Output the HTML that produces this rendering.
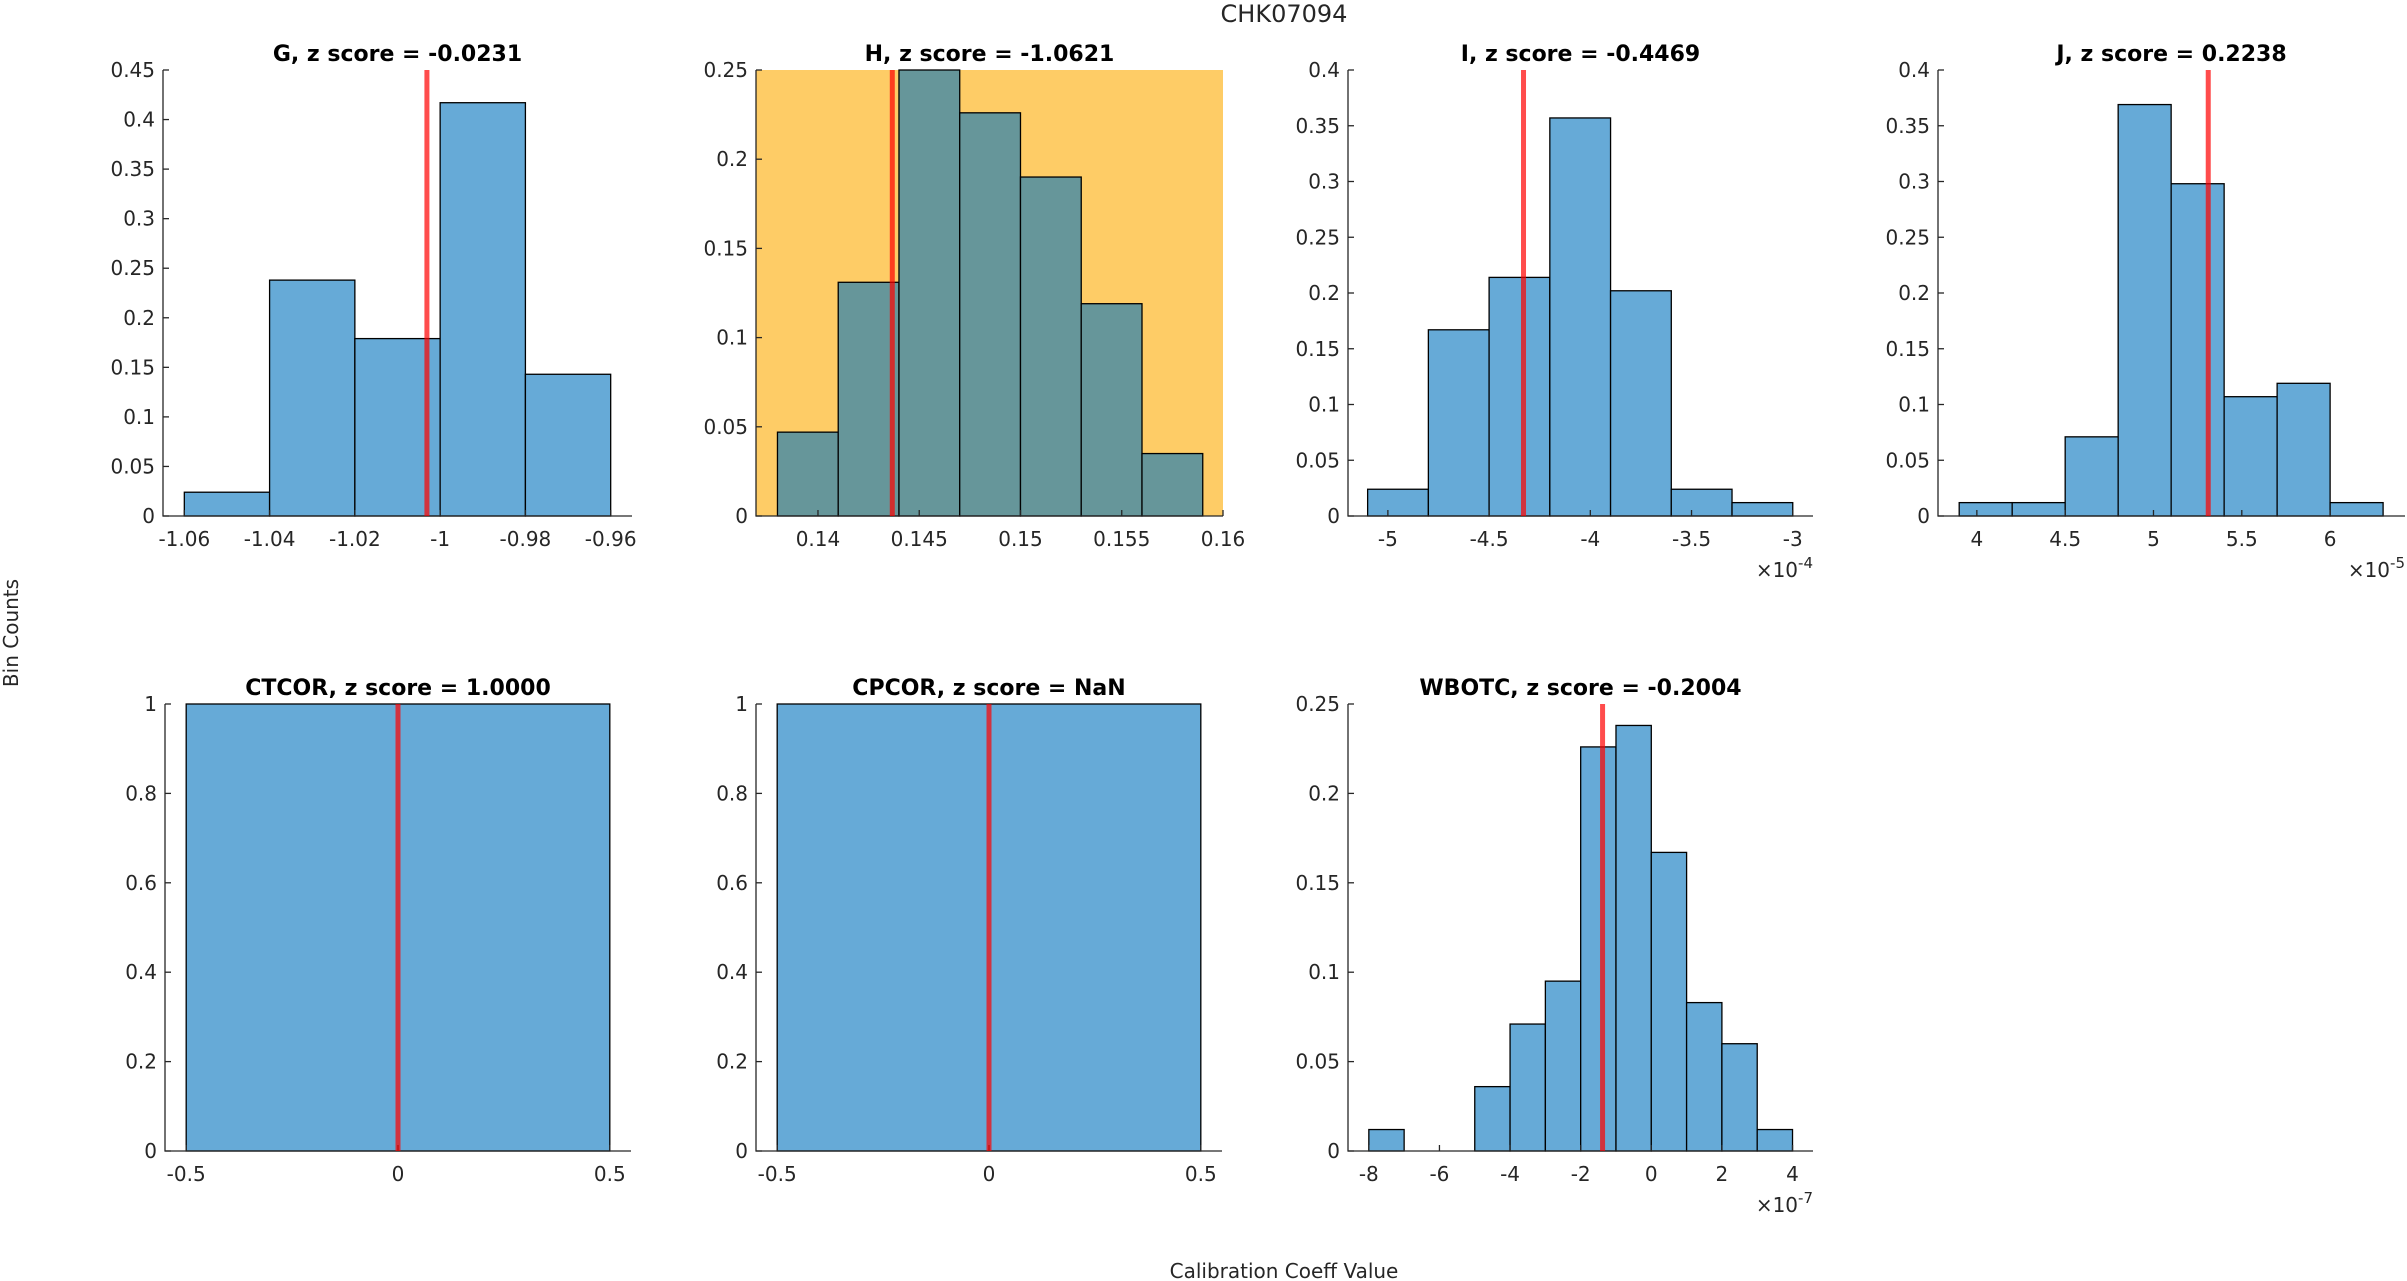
<!DOCTYPE html>
<html>
<head>
<meta charset="utf-8">
<style>
  html,body{margin:0;padding:0;background:#fff;}
  body{width:2407px;height:1281px;overflow:hidden;}
  svg{display:block;font-family:"DejaVu Sans","Liberation Sans",sans-serif;}
</style>
</head>
<body>
<svg id="fig" width="2407" height="1281" viewBox="0 0 2407 1281" xmlns="http://www.w3.org/2000/svg">
  <text x="1284" y="22" font-size="24" fill="#262626" text-anchor="middle">CHK07094</text>
  <text transform="translate(18,633) rotate(-90)" font-size="20" fill="#262626" text-anchor="middle">Bin Counts</text>
  <text x="1284" y="1278" font-size="20" fill="#262626" text-anchor="middle">Calibration Coeff Value</text>
</svg>
<script>
// ---- data (per panel) ----
const gEdges = [-1.06, -1.04, -1.02, -1.00, -0.98, -0.96];
const gValues = [0.024, 0.238, 0.179, 0.417, 0.143];
const gTicksX = [-1.06, -1.04, -1.02, -1, -0.98, -0.96];
const gTicksY = [0, 0.05, 0.1, 0.15, 0.2, 0.25, 0.3, 0.35, 0.4, 0.45];
const gMarker = -1.0031;

const hEdges = [0.138, 0.141, 0.144, 0.147, 0.150, 0.153, 0.156, 0.159];
const hValues = [0.047, 0.131, 0.250, 0.226, 0.190, 0.119, 0.035];
const hTicksX = [0.14, 0.145, 0.15, 0.155, 0.16];
const hTicksY = [0, 0.05, 0.1, 0.15, 0.2, 0.25];
const hMarker = 0.14367;

const iEdges = [-5.1, -4.8, -4.5, -4.2, -3.9, -3.6, -3.3, -3.0];
const iValues = [0.024, 0.167, 0.214, 0.357, 0.202, 0.024, 0.012];
const iTicksX = [-5, -4.5, -4, -3.5, -3];
const iTicksY = [0, 0.05, 0.1, 0.15, 0.2, 0.25, 0.3, 0.35, 0.4];
const iMarker = -4.33;

const jEdges = [3.9, 4.2, 4.5, 4.8, 5.1, 5.4, 5.7, 6.0, 6.3];
const jValues = [0.012, 0.012, 0.071, 0.369, 0.298, 0.107, 0.119, 0.012];
const jTicksX = [4, 4.5, 5, 5.5, 6];
const jTicksY = [0, 0.05, 0.1, 0.15, 0.2, 0.25, 0.3, 0.35, 0.4];
const jMarker = 5.31;

const ctEdges = [-0.5, 0.5];
const ctValues = [1];
const ctTicksX = [-0.5, 0, 0.5];
const ctTicksY = [0, 0.2, 0.4, 0.6, 0.8, 1];
const ctMarker = 0;

const cpEdges = [-0.5, 0.5];
const cpValues = [1];
const cpTicksX = [-0.5, 0, 0.5];
const cpTicksY = [0, 0.2, 0.4, 0.6, 0.8, 1];
const cpMarker = 0;

const wEdges = [-8, -7, -6, -5, -4, -3, -2, -1, 0, 1, 2, 3, 4];
const wValues = [0.012, 0, 0, 0.036, 0.071, 0.095, 0.226, 0.238, 0.167, 0.083, 0.060, 0.012];
const wTicksX = [-8, -6, -4, -2, 0, 2, 4];
const wTicksY = [0, 0.05, 0.1, 0.15, 0.2, 0.25];
const wMarker = -1.38;

const panels = [
  {id:'g', title:'G, z score = -0.0231', edges:gEdges, values:gValues, tx:gTicksX, ty:gTicksY, marker:gMarker,
   xlim:[-1.065,-0.955], ylim:[0,0.45], box:[163,70,632,516]},
  {id:'h', title:'H, z score = -1.0621', edges:hEdges, values:hValues, tx:hTicksX, ty:hTicksY, marker:hMarker,
   xlim:[0.13694,0.16], ylim:[0,0.25], box:[756,70,1223,516], bg:true},
  {id:'i', title:'I, z score = -0.4469', edges:iEdges, values:iValues, tx:iTicksX, ty:iTicksY, marker:iMarker,
   xlim:[-5.197,-2.9], ylim:[0,0.4], box:[1348,70,1813,516], exp:'-4'},
  {id:'j', title:'J, z score = 0.2238', edges:jEdges, values:jValues, tx:jTicksX, ty:jTicksY, marker:jMarker,
   xlim:[3.78,6.424], ylim:[0,0.4], box:[1938,70,2405,516], exp:'-5'},
  {id:'ctcor', title:'CTCOR, z score = 1.0000', edges:ctEdges, values:ctValues, tx:ctTicksX, ty:ctTicksY, marker:ctMarker,
   xlim:[-0.55,0.55], ylim:[0,1], box:[165,704,631,1151]},
  {id:'cpcor', title:'CPCOR, z score = NaN', edges:cpEdges, values:cpValues, tx:cpTicksX, ty:cpTicksY, marker:cpMarker,
   xlim:[-0.55,0.55], ylim:[0,1], box:[756,704,1222,1151]},
  {id:'wbotc', title:'WBOTC, z score = -0.2004', edges:wEdges, values:wValues, tx:wTicksX, ty:wTicksY, marker:wMarker,
   xlim:[-8.59,4.58], ylim:[0,0.25], box:[1348,704,1813,1151], exp:'-7'}
];

const NS = 'http://www.w3.org/2000/svg';
const fig = document.getElementById('fig');
function mk(tag, attrs, parent){
  const e = document.createElementNS(NS, tag);
  for (const k in attrs) e.setAttribute(k, attrs[k]);
  (parent||fig).appendChild(e);
  return e;
}
function fmt(v){ return String(+v.toFixed(6)).replace(/^(-?)0\./,'$10.'); }

panels.forEach(p => {
  const [L,T,R,B] = p.box;
  const xs = v => L + (v - p.xlim[0]) / (p.xlim[1]-p.xlim[0]) * (R-L);
  const ys = v => B - (v - p.ylim[0]) / (p.ylim[1]-p.ylim[0]) * (B-T);
  const g = mk('g', {});
  
  

  if (p.bg) {
    const bg = mk('rect', {x:L, y:T, width:R-L, height:B-T, fill:'#FECC66'}, g);
    
    
  }
  const fill = p.bg ? '#66969A' : '#66AAD7';
  p.values.forEach((v, k) => {
    const x0 = xs(p.edges[k]), x1 = xs(p.edges[k+1]);
    const r = mk('rect', {x:x0, y:ys(v), width:x1-x0, height:ys(0)-ys(v), fill:fill, stroke:'#000', 'stroke-width':1.3}, g);
    
    
  });
  // axes
  const ax = mk('path', {d:`M${L},${T}V${B}H${R}`, fill:'none', stroke:'#262626', 'stroke-width':1.3}, g);
  
  
  p.ty.forEach(t => {
    const y = ys(t);
    mk('line', {x1:L, x2:L+6, y1:y, y2:y, stroke:'#262626', 'stroke-width':1.3}, g);
    const tl = mk('text', {x:L-8, y:y+7, 'font-size':20, fill:'#262626', 'text-anchor':'end'}, g);
    tl.textContent = fmt(t);
    
    
  });
  p.tx.forEach(t => {
    const x = xs(t);
    mk('line', {x1:x, x2:x, y1:B, y2:B-6, stroke:'#262626', 'stroke-width':1.3}, g);
    const tl = mk('text', {x:x, y:B+30, 'font-size':20, fill:'#262626', 'text-anchor':'middle'}, g);
    tl.textContent = fmt(t);
    
    
  });
  // marker line
  const mx = xs(p.marker);
  const ml = mk('line', {x1:mx, x2:mx, y1:T, y2:B, stroke:'rgba(255,0,0,0.7)', 'stroke-width':5}, g);
  
  
  // title
  const tt = mk('text', {x:(L+R)/2, y:T-9, 'font-size':22, 'font-weight':'bold', fill:'#000', 'text-anchor':'middle'}, g);
  tt.textContent = p.title;
  
  
  // exponent
  if (p.exp) {
    const et = mk('text', {x:R, y:B+61, 'font-size':20, fill:'#262626', 'text-anchor':'end'}, g);
    
    
    const s1 = mk('tspan', {}, et); s1.textContent = '×10';
    const s2 = mk('tspan', {dy:-9, 'font-size':15}, et); s2.textContent = p.exp;
  }
});
</script>
</body>
</html>
